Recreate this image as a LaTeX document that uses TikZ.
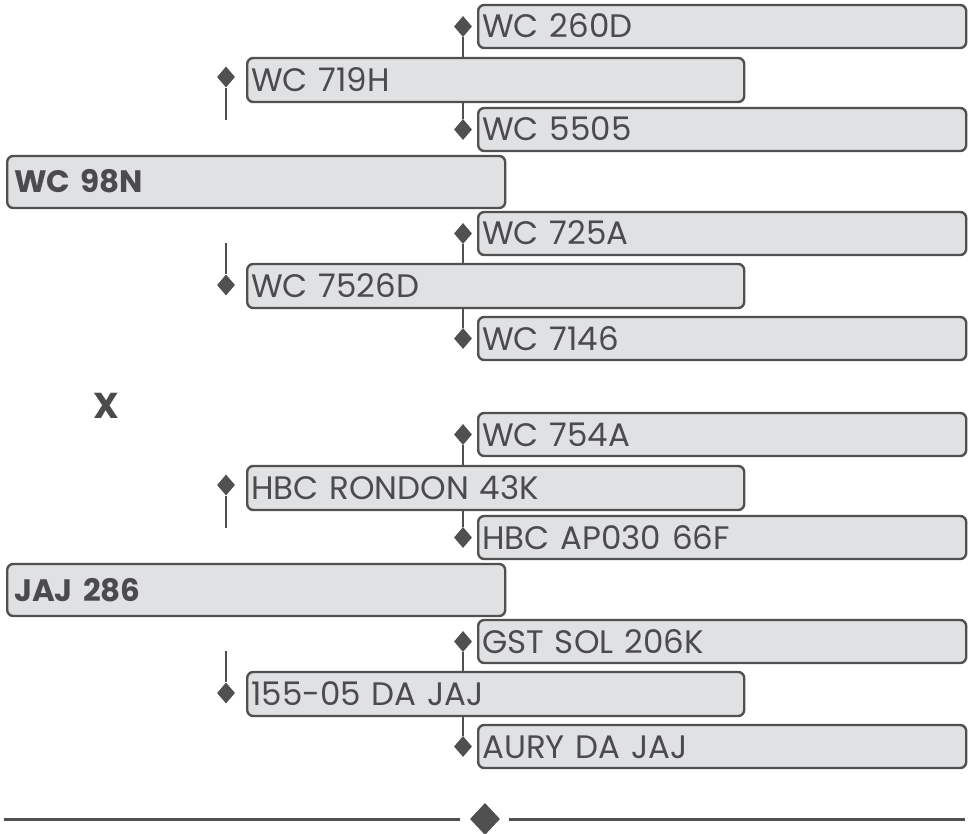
\documentclass[tikz,border=0pt]{standalone}
\usepackage{fontspec}
\setmainfont{Poppins}
\usetikzlibrary{shapes.geometric}
\definecolor{edge}{HTML}{505050}
\definecolor{boxfill}{HTML}{E0E1E3}
\definecolor{txt}{HTML}{4B4B4D}
\tikzset{
  box/.style={draw=edge, fill=boxfill, rounded corners=6pt, line width=2.4pt,
    inner xsep=4pt, inner ysep=0pt, text=txt, align=left, anchor=west,
    font=\fontsize{32.5}{32.5}\selectfont, text height=23pt, text depth=0pt},
  lone/.style={box, minimum width=498pt, text width=484pt, minimum height=52pt, inner xsep=7pt, font=\fontsize{31}{31}\selectfont\bfseries, text height=22pt},
  ltwo/.style={box, minimum width=497pt, text width=489pt, minimum height=44pt},
  lthree/.style={box, minimum width=488pt, text width=480pt, minimum height=43pt},
  gem/.style={diamond, fill=edge, draw=none, inner sep=0pt, minimum width=18pt, minimum height=21pt},
  link/.style={draw=edge, line width=2pt},
}
\begin{document}
\begin{tikzpicture}[x=1pt,y=-1pt]
\useasboundingbox (0,0) rectangle (969,834);
% group 1
\node[lthree] (a3a) at (477,26.5) {WC 260D};
\node[ltwo]   (a2a) at (246,80) {WC 719H};
\node[lthree] (a3b) at (477,129.5) {WC 5505};
\node[lone]   (a1)  at (6,182) {WC 98N};
\node[lthree] (a3c) at (477,233.5) {WC 725A};
\node[ltwo]   (a2b) at (246,286) {WC 7526D};
\node[lthree] (a3d) at (477,338.5) {WC 7146};
\node[gem] (da3a) at (463,26.5) {};
\node[gem] (da3b) at (463,129.5) {};
\node[gem] (da3c) at (463,233.5) {};
\node[gem] (da3d) at (463,338.5) {};
\node[gem] (da2a) at (226,77) {};
\node[gem] (da2b) at (226,285) {};
\coordinate (ea2a) at (226,120);
\coordinate (ea2b) at (226,243);
\draw[link] (da3a) -- (da3a |- a2a.north);
\draw[link] (da3b) -- (da3b |- a2a.south);
\draw[link] (da3c) -- (da3c |- a2b.north);
\draw[link] (da3d) -- (da3d |- a2b.south);
\draw[link] (da2a) -- (ea2a);
\draw[link] (da2b) -- (ea2b);
\node[text=txt, font=\fontsize{36}{36}\selectfont\bfseries, inner sep=0pt, text height=26pt, text depth=0pt] (x) at (106,405) {X};
% group 2
\node[lthree] (b3a) at (477,434.5) {WC 754A};
\node[ltwo]   (b2a) at (246,488) {HBC RONDON 43K};
\node[lthree] (b3b) at (477,537.5) {HBC AP030 66F};
\node[lone]   (b1)  at (6,590) {JAJ 286};
\node[lthree] (b3c) at (477,641.5) {GST SOL 206K};
\node[ltwo]   (b2b) at (246,694) {155-05 DA JAJ};
\node[lthree] (b3d) at (477,746.5) {AURY DA JAJ};
\node[gem] (db3a) at (463,434.5) {};
\node[gem] (db3b) at (463,537.5) {};
\node[gem] (db3c) at (463,641.5) {};
\node[gem] (db3d) at (463,746.5) {};
\node[gem] (db2a) at (226,485) {};
\node[gem] (db2b) at (226,693) {};
\coordinate (eb2a) at (226,528);
\coordinate (eb2b) at (226,651);
\draw[link] (db3a) -- (db3a |- b2a.north);
\draw[link] (db3b) -- (db3b |- b2a.south);
\draw[link] (db3c) -- (db3c |- b2b.north);
\draw[link] (db3d) -- (db3d |- b2b.south);
\draw[link] (db2a) -- (eb2a);
\draw[link] (db2b) -- (eb2b);
% bottom rule
\node[diamond, fill=edge, inner sep=0pt, minimum width=30pt, minimum height=32pt] (mid) at (485,819) {};
\coordinate (rl) at (4,819);
\coordinate (rr) at (965,819);
\draw[draw=edge, line width=3pt] (rl) -- ([xshift=-10pt]mid.west);
\draw[draw=edge, line width=3pt] ([xshift=9pt]mid.east) -- (rr);
\end{tikzpicture}
\end{document}
